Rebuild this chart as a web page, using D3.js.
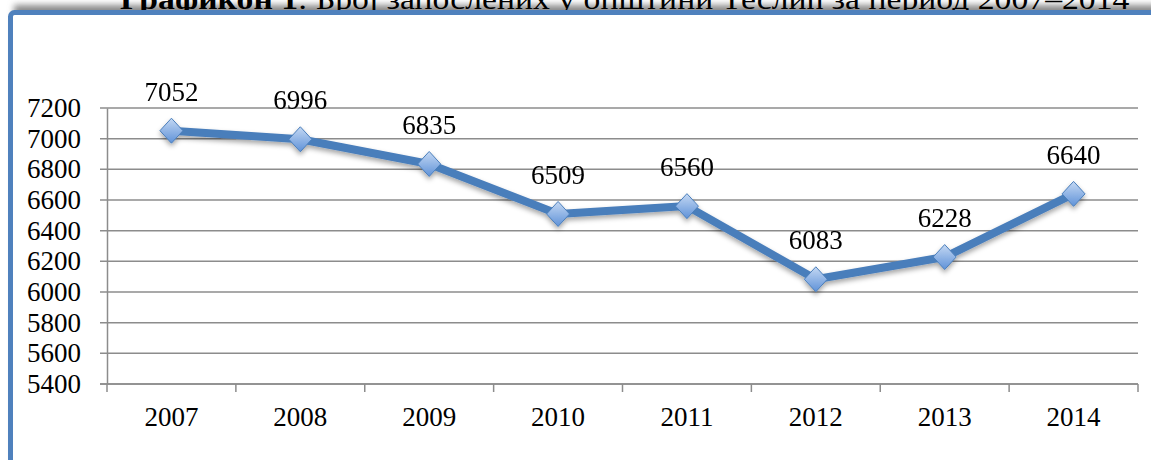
<!DOCTYPE html>
<html>
<head>
<meta charset="utf-8">
<script src="https://cdn.jsdelivr.net/npm/d3@7"></script>
<style>
  body { margin: 0; background: #fff; }
  svg { display: block; }
  text { font-family: "Liberation Serif", "DejaVu Serif", serif; fill: #000; }
</style>
</head>
<body>
<script>
const years = ['2007', '2008', '2009', '2010', '2011', '2012', '2013', '2014'];
const employed = [7052, 6996, 6835, 6509, 6560, 6083, 6228, 6640];
const yTicks = [5400, 5600, 5800, 6000, 6200, 6400, 6600, 6800, 7000, 7200];
const titleBold = 'Графикон 1';
const titleRest = ': Број запослених у општини Теслић за период 2007–2014';

const width = 1151;
const height = 460;
const margin = { top: 108, right: 13, bottom: 76, left: 107 };

const svg = d3.select('body')
  .append('svg')
  .attr('width', width)
  .attr('height', height);

const defs = svg.append('defs');

const blur = defs.append('filter').attr('id', 'blur')
  .attr('x', '-5%').attr('y', '-5%').attr('width', '110%').attr('height', '110%');
blur.append('feGaussianBlur').attr('stdDeviation', 3);

const shadow = defs.append('filter').attr('id', 'shadow')
  .attr('x', '-10%').attr('y', '-10%').attr('width', '120%').attr('height', '130%');
shadow.append('feDropShadow')
  .attr('dx', 0).attr('dy', 3).attr('stdDeviation', 2.5)
  .attr('flood-color', '#000').attr('flood-opacity', 0.35);

const grad = defs.append('linearGradient').attr('id', 'diamond')
  .attr('x1', 0).attr('y1', 0).attr('x2', 0).attr('y2', 1);
grad.append('stop').attr('offset', '0%').attr('stop-color', '#c4d8f3');
grad.append('stop').attr('offset', '100%').attr('stop-color', '#5f92d8');

// box shadow + title (cut off by the frame)
svg.append('rect')
  .attr('x', 14).attr('y', 5)
  .attr('width', 1200).attr('height', 520)
  .attr('fill', '#8a8a8a')
  .attr('filter', 'url(#blur)');

const title = svg.append('text')
  .attr('x', 120)
  .attr('y', 9)
  .style('font-size', '30px');
title.append('tspan').style('font-weight', 'bold').text(titleBold);
title.append('tspan').text(titleRest);
const tw = title.node().getComputedTextLength();
title.attr('transform', `translate(120,0) scale(${1010 / tw},1) translate(-120,0)`);

svg.append('rect')
  .attr('x', 10.5).attr('y', 12.5)
  .attr('width', 1200).attr('height', 520)
  .attr('rx', 4)
  .attr('fill', '#fff')
  .attr('stroke', '#4f81bd')
  .attr('stroke-width', 5);

// scales
const x = d3.scaleBand()
  .domain(years)
  .range([margin.left, width - margin.right]);

const y = d3.scaleLinear()
  .domain([5400, 7200])
  .range([height - margin.bottom, margin.top]);

// gridlines
svg.append('g')
  .selectAll('line')
  .data(yTicks)
  .join('line')
  .attr('x1', margin.left - 7)
  .attr('x2', width - margin.right)
  .attr('y1', d => y(d))
  .attr('y2', d => y(d))
  .attr('stroke', '#8c8c8c')
  .attr('stroke-width', 1.5);

// Y axis
const yAxis = svg.append('g')
  .attr('transform', `translate(${margin.left},0)`)
  .call(d3.axisLeft(y).tickValues(yTicks).tickSize(0).tickPadding(26).tickFormat(d3.format('d')));
yAxis.select('.domain').attr('stroke', '#8c8c8c').attr('stroke-width', 1.5);
yAxis.selectAll('text')
  .style('font-size', '27px')
  .style('font-family', '"Liberation Serif", serif')
  .attr('fill', '#000');

// X axis line and ticks at band boundaries
const xAxis = svg.append('g')
  .attr('transform', `translate(0,${height - margin.bottom})`);
xAxis.append('line')
  .attr('x1', margin.left - 7)
  .attr('x2', width - margin.right)
  .attr('stroke', '#8c8c8c')
  .attr('stroke-width', 1.5);
const bounds = years.map(d => x(d)).concat([x(years[years.length - 1]) + x.bandwidth()]);
xAxis.selectAll('line.tick')
  .data(bounds)
  .join('line')
  .attr('class', 'tick')
  .attr('x1', d => d).attr('x2', d => d)
  .attr('y1', 0).attr('y2', 8)
  .attr('stroke', '#8c8c8c')
  .attr('stroke-width', 1.5);
xAxis.selectAll('text')
  .data(years)
  .join('text')
  .attr('x', d => x(d) + x.bandwidth() / 2)
  .attr('y', 42)
  .attr('text-anchor', 'middle')
  .style('font-size', '27px')
  .text(d => d);

// series
const pts = years.map((yr, i) => ({ year: yr, value: employed[i] }));
const cx = d => x(d.year) + x.bandwidth() / 2;

const series = svg.append('g').attr('filter', 'url(#shadow)');

series.append('path')
  .datum(pts)
  .attr('fill', 'none')
  .attr('stroke', '#4a7ebb')
  .attr('stroke-width', 8)
  .attr('stroke-linejoin', 'round')
  .attr('d', d3.line().x(cx).y(d => y(d.value)));

series.selectAll('path.mark')
  .data(pts)
  .join('path')
  .attr('class', 'mark')
  .attr('transform', d => `translate(${cx(d)},${y(d.value)})`)
  .attr('d', 'M0,-12.5L11.5,0L0,12.5L-11.5,0Z')
  .attr('fill', 'url(#diamond)')
  .attr('stroke', '#4a7ebb')
  .attr('stroke-width', 1);

// data labels
svg.append('g')
  .selectAll('text')
  .data(pts)
  .join('text')
  .attr('x', cx)
  .attr('y', d => y(d.value) - 30)
  .attr('text-anchor', 'middle')
  .style('font-size', '27px')
  .text(d => d.value);
</script>
</body>
</html>
